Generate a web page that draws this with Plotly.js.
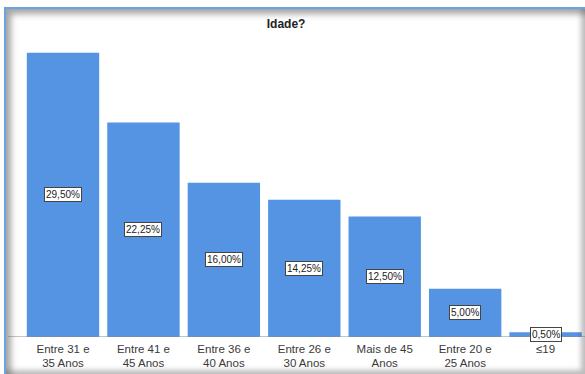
<!DOCTYPE html>
<html>
<head>
<meta charset="utf-8">
<script src="https://cdn.plot.ly/plotly-3.0.1.min.js"></script>
<style>
  html, body { margin: 0; padding: 0; background: #ffffff; }
  #wrap { position: relative; width: 585px; height: 374px; overflow: hidden; }
  #chart { position: absolute; left: 0; top: 0; width: 585px; height: 374px; }
  /* window-style frame around the chart */
  #frame {
    position: absolute; left: 4px; top: 7px; width: 590px; height: 380px;
    border-left: 2px solid #6aa3e3; border-top: 2px solid #6aa3e3;
    box-shadow: inset 5px 5px 6px rgba(90,90,90,0.55);
    pointer-events: none; box-sizing: border-box;
  }
  #frameBR {
    position: absolute; left: 6px; top: 9px; width: 579px; height: 365px;
    box-shadow: inset -4px -4px 5px rgba(90,90,90,0.4);
    pointer-events: none;
  }
</style>
</head>
<body>
<div id="wrap">
  <div id="chart"></div>
  <div id="frame"></div>
  <div id="frameBR"></div>
</div>
<script>
// Age groups and their shares (%)
const categories = ["Entre 31 e<br>35 Anos", "Entre 41 e<br>45 Anos", "Entre 36 e<br>40 Anos",
                    "Entre 26 e<br>30 Anos", "Mais de 45<br>Anos", "Entre 20 e<br>25 Anos", "≤19"];
const percentages = [29.5, 22.25, 16.0, 14.25, 12.5, 5.0, 0.5];
const barLabels = ["29,50%", "22,25%", "16,00%", "14,25%", "12,50%", "5,00%", "0,50%"];

const xs = categories.map((_, i) => i);

const trace = {
  type: "bar",
  x: xs,
  y: percentages,
  marker: { color: "#5593e3", line: { width: 0 } },
  hoverinfo: "none"
};

// value labels boxed in the middle of each bar
const annotations = xs.map((xi, i) => ({
  x: xi, y: percentages[i] / 2, xref: "x", yref: "y",
  text: barLabels[i], showarrow: false,
  font: { family: "Liberation Sans, Arial, sans-serif", size: 10, color: "#222" },
  bgcolor: "#ffffff", bordercolor: "#444", borderwidth: 1, borderpad: 1
}));

const layout = {
  width: 585, height: 374,
  margin: { l: 8, r: 0, t: 16, b: 37 },
  paper_bgcolor: "rgba(0,0,0,0)",
  plot_bgcolor: "rgba(0,0,0,0)",
  showlegend: false,
  bargap: 0.1,
  title: {
    text: "<b>Idade?</b>",
    font: { family: "Liberation Sans, Arial, sans-serif", size: 12, color: "#222" },
    x: 0.482, xanchor: "center", y: 0.937, yanchor: "middle", xref: "paper", yref: "container"
  },
  xaxis: {
    range: [-0.684, 6.49],
    tickvals: xs, ticktext: categories,
    showgrid: false, zeroline: false,
    showline: false, ticks: "",
    ticklabelstandoff: 3,
    tickfont: { family: "Liberation Sans, Arial, sans-serif", size: 11.5, color: "#3a3a3a" },
    fixedrange: true
  },
  yaxis: {
    range: [0, 33.3],
    showgrid: false, zeroline: false, showline: false,
    showticklabels: false, ticks: "", fixedrange: true
  },
  shapes: [{
    type: "line", xref: "paper", yref: "y",
    x0: 0, x1: 1, y0: 0, y1: 0,
    line: { color: "#8a8a8a", width: 1 }
  }],
  annotations: annotations
};

Plotly.newPlot("chart", [trace], layout, { displayModeBar: false, staticPlot: true });
</script>
</body>
</html>
